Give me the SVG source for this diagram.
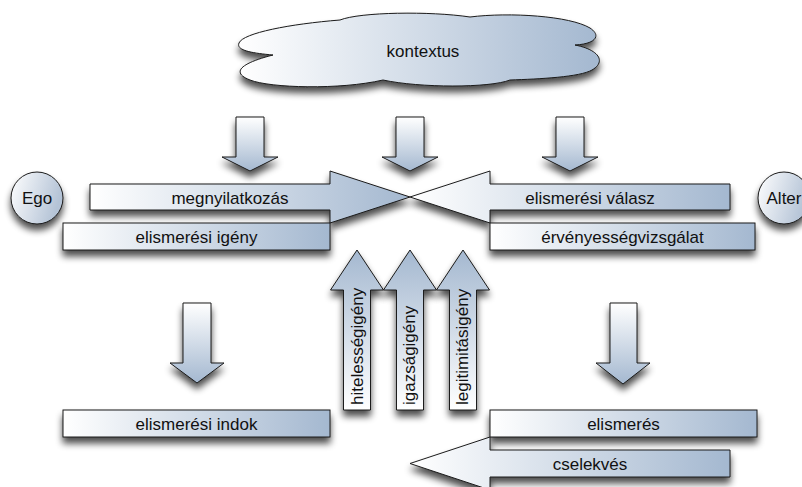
<svg xmlns="http://www.w3.org/2000/svg" width="802" height="487" viewBox="0 0 802 487">
<style>
.s{stroke:#1a1a1a;stroke-width:1;}
.t{font-family:"Liberation Sans",Arial,sans-serif;font-size:17px;fill:#111;}
.c{text-anchor:middle;}
</style>
<defs>
<linearGradient id="gh" x1="0" y1="0" x2="1" y2="0"><stop offset="0" stop-color="#ffffff"/><stop offset="1" stop-color="#a4b8d0"/></linearGradient>
<linearGradient id="gd" x1="0" y1="0" x2="0" y2="1"><stop offset="0" stop-color="#ffffff"/><stop offset="1" stop-color="#a4b8d0"/></linearGradient>
<linearGradient id="gu" x1="0" y1="0" x2="0" y2="1"><stop offset="0" stop-color="#a4b8d0"/><stop offset="1" stop-color="#ffffff"/></linearGradient>
<linearGradient id="gc" x1="0" y1="0" x2="1" y2="0.3"><stop offset="0" stop-color="#ffffff"/><stop offset="1" stop-color="#b4c3d6"/></linearGradient>
<filter id="sh" x="-30%" y="-50%" width="160%" height="220%">
<feGaussianBlur in="SourceAlpha" stdDeviation="3.5"/>
<feOffset dx="0" dy="6"/>
<feComponentTransfer><feFuncA type="linear" slope="0.7"/></feComponentTransfer>
<feMerge><feMergeNode/><feMergeNode in="SourceGraphic"/></feMerge>
</filter>
</defs>
<rect width="802" height="487" fill="#ffffff"/>

<g id="kontextus">
<path class="s" filter="url(#sh)" fill="url(#gh)" d="M273,55 C250,53 236,50 239,43 C243,33 290,24 340,20 C360,12 430,11 470,17 C510,12 570,16 590,28 C602,36 595,44 575,45 C600,50 606,62 592,70 C580,77 540,79 510,80 C490,88 420,88 383,80 C340,90 270,88 250,80 C232,73 238,64 273,55 Z"/>
<text class="t c" x="423" y="57">kontextus</text>
</g>

<g id="connectors">
<path class="s" filter="url(#sh)" fill="url(#gd)" d="M236,117 H264 V157 H278 L250,171 L222,157 H236 Z"/>
<path class="s" filter="url(#sh)" fill="url(#gd)" d="M396,117 H424 V157 H438 L410,171 L382,157 H396 Z"/>
<path class="s" filter="url(#sh)" fill="url(#gd)" d="M556,117 H584 V157 H598 L570,171 L542,157 H556 Z"/>
<path class="s" filter="url(#sh)" fill="url(#gd)" d="M183,303 H211 V363 H224 L197,383 L170,363 H183 Z"/>
<path class="s" filter="url(#sh)" fill="url(#gd)" d="M610,303 H637 V363 H650 L623,384 L596,363 H610 Z"/>
</g>

<g id="ego">
<circle class="s" filter="url(#sh)" fill="url(#gc)" cx="37" cy="198" r="26"/>
<text class="t c" x="37" y="204">Ego</text>
</g>

<g id="alter">
<circle class="s" filter="url(#sh)" fill="url(#gc)" cx="784" cy="198" r="26"/>
<text class="t c" x="784" y="204">Alter</text>
</g>

<g id="megnyilatkozas">
<path class="s" filter="url(#sh)" fill="url(#gh)" d="M90,184 H330 V171 L410,197 L330,223 V210 H90 Z"/>
<text class="t c" x="230" y="203.5">megnyilatkozás</text>
</g>

<g id="elismeresi-valasz">
<path class="s" filter="url(#sh)" fill="url(#gh)" d="M730,184 H490 V171 L410,197 L490,223 V210 H730 Z"/>
<text class="t c" x="590" y="203.5">elismerési válasz</text>
</g>

<g id="elismeresi-igeny">
<rect class="s" filter="url(#sh)" fill="url(#gh)" x="63" y="223" width="267" height="27"/>
<text class="t c" x="196.5" y="242.5">elismerési igény</text>
</g>

<g id="ervenyessegvizsgalat">
<rect class="s" filter="url(#sh)" fill="url(#gh)" x="490" y="223" width="265" height="27"/>
<text class="t c" x="622.5" y="242.5">érvényességvizsgálat</text>
</g>

<g id="hitelessegigeny">
<path class="s" filter="url(#sh)" fill="url(#gu)" d="M357,250 L383.5,290 H370.5 V410 H343.5 V290 H330.5 Z"/>
<text class="t" transform="translate(362.5,405) rotate(-90)">hitelességigény</text>
</g>

<g id="igazsagigeny">
<path class="s" filter="url(#sh)" fill="url(#gu)" d="M410,250 L436.5,290 H423.5 V410 H396.5 V290 H383.5 Z"/>
<text class="t" transform="translate(415,405) rotate(-90)">igazságigény</text>
</g>

<g id="legitimitasigeny">
<path class="s" filter="url(#sh)" fill="url(#gu)" d="M463,250 L489.5,290 H476.5 V410 H449.5 V290 H436.5 Z"/>
<text class="t" transform="translate(468,405) rotate(-90)">legitimitásigény</text>
</g>

<g id="elismeresi-indok">
<rect class="s" filter="url(#sh)" fill="url(#gh)" x="63" y="410" width="267" height="27"/>
<text class="t c" x="196.5" y="429.5">elismerési indok</text>
</g>

<g id="elismeres">
<rect class="s" filter="url(#sh)" fill="url(#gh)" x="490" y="410" width="267" height="27"/>
<text class="t c" x="623.5" y="429.5">elismerés</text>
</g>

<g id="cselekves">
<path class="s" filter="url(#sh)" fill="url(#gh)" d="M730,450 H490 V437 L410,463.5 L490,490 V477 H730 Z"/>
<text class="t c" x="590" y="469.5">cselekvés</text>
</g>
</svg>
